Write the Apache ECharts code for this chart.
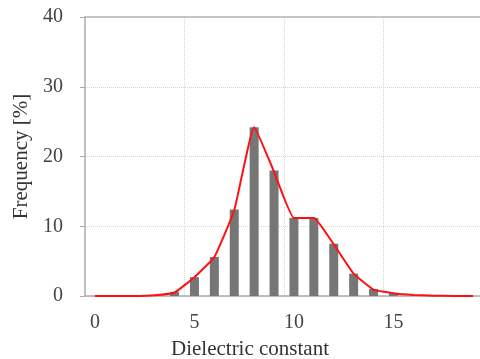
<!DOCTYPE html>
<html>
<head>
<meta charset="utf-8">
<script src="https://cdn.jsdelivr.net/npm/echarts@6/dist/echarts.min.js"></script>
<style>
  html, body { margin: 0; padding: 0; background: #fff; }
  #chart { width: 480px; height: 359px; }
</style>
</head>
<body>
<div id="chart"></div>
<script>
// Dielectric constant classes (one per unit)
const categories = ['0','1','2','3','4','5','6','7','8','9','10','11','12','13','14','15','16','17','18','19'];
// Measured frequency per class [%]
const frequency = [null, null, null, null, 0.6, 2.7, 5.6, 12.4, 24.2, 18.0, 11.2, 11.2, 7.5, 3.2, 1.0, 0.4, null, null, null, null];
// Fitted distribution curve [%]
const fitted = [0, 0, 0, 0.1, 0.5, 2.7, 5.6, 12.3, 24.2, 17.8, 11.2, 11.2, 7.4, 3.2, 0.9, 0.4, 0.15, 0.05, 0, 0];
const xTickLabels = ['0', '5', '10', '15'];
const yTicks = { min: 0, max: 40, interval: 10 };

const serif = '"Liberation Serif", "DejaVu Serif", serif';
const chart = echarts.init(document.getElementById('chart'), null, { renderer: 'canvas' });

chart.setOption({
  animation: false,
  grid: { left: 85, right: -3, top: 17, bottom: 63, containLabel: false, outerBoundsMode: 'none' },
  xAxis: [
    {
      type: 'category',
      data: categories,
      boundaryGap: true,
      name: 'Dielectric constant',
      nameLocation: 'middle',
      nameGap: 43,
      nameTextStyle: { fontFamily: serif, fontSize: 21, color: '#333', padding: [0, 68, 0, 0] },
      axisLine: { lineStyle: { color: '#aaa', width: 1.5 } },
      axisTick: { show: false },
      axisLabel: {
        interval: 0,
        formatter: v => (xTickLabels.indexOf(v) >= 0 ? v : ''),
        fontFamily: serif, fontSize: 20, color: '#444', margin: 17
      },
      splitLine: {
        show: true,
        interval: (i) => i % 5 === 0 && i > 0,
        lineStyle: { color: '#d4d4d4', type: 'dotted', width: 1 }
      }
    },
    {
      type: 'category',
      position: 'top',
      data: categories,
      axisLine: { show: true, onZero: false, lineStyle: { color: '#b5b5b5', width: 1.5 } },
      axisTick: { show: false },
      axisLabel: { show: false },
      splitLine: { show: false }
    }
  ],
  yAxis: {
    type: 'value',
    min: yTicks.min,
    max: yTicks.max,
    interval: yTicks.interval,
    name: 'Frequency [%]',
    nameLocation: 'middle',
    nameGap: 53,
    nameTextStyle: { fontFamily: serif, fontSize: 21, color: '#333' },
    axisLine: { show: true, lineStyle: { color: '#aaa', width: 1.5 } },
    axisTick: { show: true, length: 5, lineStyle: { color: '#aaa' } },
    axisLabel: { fontFamily: serif, fontSize: 20, color: '#444', margin: 22 },
    splitLine: { show: true, lineStyle: { color: '#d4d4d4', type: 'dotted', width: 1 } }
  },
  series: [
    {
      type: 'bar',
      data: frequency,
      barWidth: 9,
      itemStyle: { color: '#767676' },
      z: 2
    },
    {
      type: 'line',
      data: fitted,
      smooth: 0.12,
      symbol: 'none',
      lineStyle: { color: '#ff1010', width: 2 },
      z: 3
    }
  ]
});
</script>
</body>
</html>
